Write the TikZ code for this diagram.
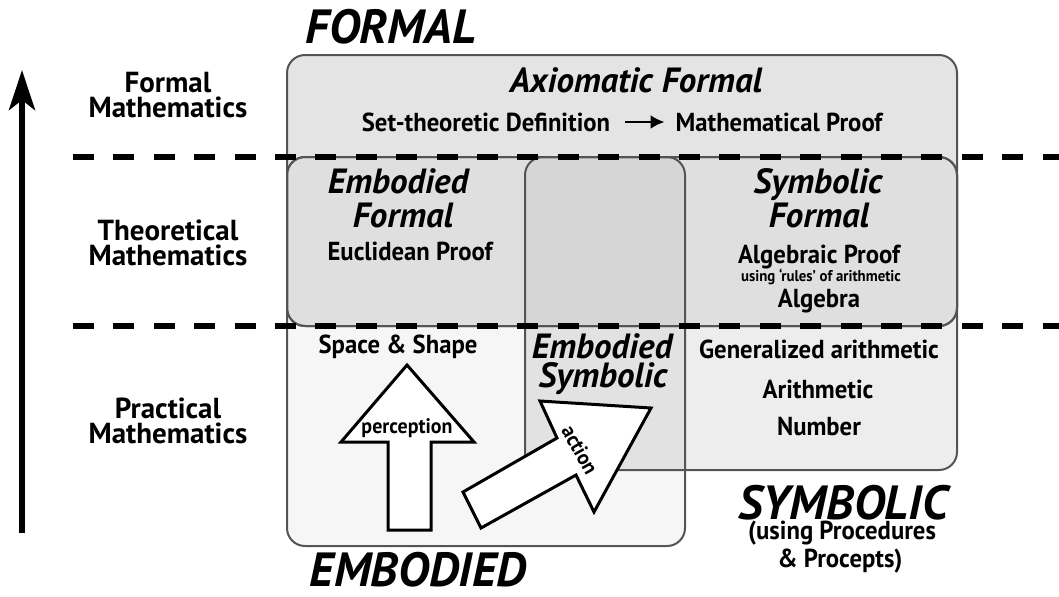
\documentclass[tikz,border=0pt]{standalone}
\usepackage{fontspec}
\setmainfont{PT Sans}
\newfontfamily\narrowfont[FakeStretch=0.95]{PT Sans}
\usetikzlibrary{arrows.meta}

\definecolor{formalfill}{gray}{0.895}
\definecolor{embfill}{gray}{0.965}
\definecolor{symfill}{gray}{0.93}
\definecolor{bothfill}{gray}{0.885}
\definecolor{bandfill}{gray}{0.875}
\definecolor{bandboth}{gray}{0.84}
\definecolor{edgegray}{gray}{0.33}

\tikzset{
  region/.style={draw=edgegray, line width=1pt, rounded corners=9pt},
  levelline/.style={line width=2.6pt, dash pattern=on 10.5pt off 9.7pt},
  blockarrow/.style={draw=black, line width=1.5pt, fill=white, line join=miter},
  levellabel/.style={anchor=base, font=\bfseries\fontsize{14.5}{14.5}\selectfont},
  worldlabel/.style={anchor=base, inner sep=1pt, font=\bfseries\itshape\fontsize{24}{24}\selectfont},
  titlelabel/.style={anchor=base, font=\bfseries\itshape\fontsize{17.5}{17.5}\selectfont},
  bodylabel/.style={anchor=base, font=\narrowfont\bfseries\fontsize{13}{13}\selectfont},
  smalllabel/.style={anchor=base, font=\narrowfont\bfseries\fontsize{7.8}{7.8}\selectfont},
  arrowlabel/.style={anchor=base, inner sep=1pt, font=\narrowfont\bfseries\fontsize{10.5}{10.5}\selectfont},
}

\begin{document}
\begin{tikzpicture}[x=0.5pt, y=-0.5pt]
\useasboundingbox (0,0) rectangle (1059,596);

% ---- fills of the three worlds ----
\fill[formalfill, rounded corners=9pt] (287,55) rectangle (957,326);
\fill[embfill, rounded corners=9pt] (287,157) rectangle (685,546);
\fill[symfill, rounded corners=9pt] (525,157) rectangle (957,470);
\begin{scope}
  \clip[rounded corners=9pt] (287,157) rectangle (685,546);
  \fill[bothfill, rounded corners=9pt] (525,157) rectangle (957,470);
\end{scope}
% theoretical band
\fill[bandfill, rounded corners=9pt] (287,157) rectangle (957,326);
\begin{scope}
  \clip[rounded corners=9pt] (287,157) rectangle (685,546);
  \clip (287,157) rectangle (957,326);
  \fill[bandboth, rounded corners=9pt] (525,157) rectangle (957,470);
\end{scope}

% ---- outlines ----
\draw[region] (287,55) rectangle (957,326);
\draw[region] (287,157) rectangle (685,546);
\draw[region] (525,157) rectangle (957,470);
\draw[region] (287,157) rectangle (957,326);

% ---- level boundaries ----
\draw[levelline] (73,157) -- (1059,157);
\draw[levelline] (73,326) -- (1059,326);

% ---- rising scale on the left ----
\coordinate (scalebottom) at (22,533);
\coordinate (scaletop) at (22,70);
\draw[line width=3pt, -{Stealth[length=20pt, width=13pt, inset=5pt]}] (scalebottom) -- (scaletop);

\node[levellabel] (lf1) at (168,92) {Formal};
\node[levellabel] (lf2) at (168,117) {Mathematics};
\node[levellabel] (lt1) at (168,240) {Theoretical};
\node[levellabel] (lt2) at (168,265) {Mathematics};
\node[levellabel] (lp1) at (168,418) {Practical};
\node[levellabel] (lp2) at (168,443) {Mathematics};

% ---- world names ----
\node[worldlabel] (formalw) at (391,43) {FORMAL};
\node[worldlabel] (embodiedw) at (418,586) {EMBODIED};
\node[worldlabel] (symbolicw) at (843,519) {SYMBOLIC};
\node[bodylabel] (symnote1) at (842,539) {(using Procedures};
\node[bodylabel] (symnote2) at (840,567) {\& Procepts)};

% ---- axiomatic formal ----
\node[titlelabel] (axiom) at (636,92) {Axiomatic Formal};
\node[bodylabel] (setdef) at (486,131) {Set-theoretic Definition};
\node[bodylabel] (mathproof) at (779,131) {Mathematical Proof};
\draw[line width=1.3pt, -{Latex[length=7pt, width=7pt]}, shorten <=4pt, shorten >=2pt]
  (setdef.east |- 0,122) -- (mathproof.west |- 0,122);

% ---- theoretical band ----
\node[titlelabel] (ef1) at (398,193) {Embodied};
\node[titlelabel] (ef2) at (403,227) {Formal};
\node[bodylabel] (euclid) at (410,260) {Euclidean Proof};

\node[titlelabel] (sf1) at (818,193) {Symbolic};
\node[titlelabel] (sf2) at (819,227) {Formal};
\node[bodylabel] (algproof) at (819,263) {Algebraic Proof};
\node[smalllabel] (rules) at (821,281) {using ‘rules’ of arithmetic};
\node[bodylabel] (algebra) at (819,307) {Algebra};

% ---- practical band ----
\node[bodylabel] (space) at (398,353) {Space \& Shape};
\node[titlelabel] (es1) at (602,358) {Embodied};
\node[titlelabel] (es2) at (603,387) {Symbolic};
\node[bodylabel] (genar) at (819,358) {Generalized arithmetic};
\node[bodylabel] (arith) at (818,398) {Arithmetic};
\node[bodylabel] (number) at (819,435) {Number};

% ---- perception arrow ----
\draw[blockarrow] (388,530) -- (388,442) -- (341,442) -- (407,365)
  -- (474,442) -- (431,442) -- (431,530) -- cycle;
\node[arrowlabel] (perc) at (407,433) {perception};

% ---- action arrow ----
\draw[blockarrow] (463,492) -- (557,438) -- (540,401) -- (651,408)
  -- (594,512) -- (576,475) -- (481,528) -- cycle;
\node[arrowlabel, anchor=center, rotate=-61] (act) at (580,450) {action};

\end{tikzpicture}
\end{document}
